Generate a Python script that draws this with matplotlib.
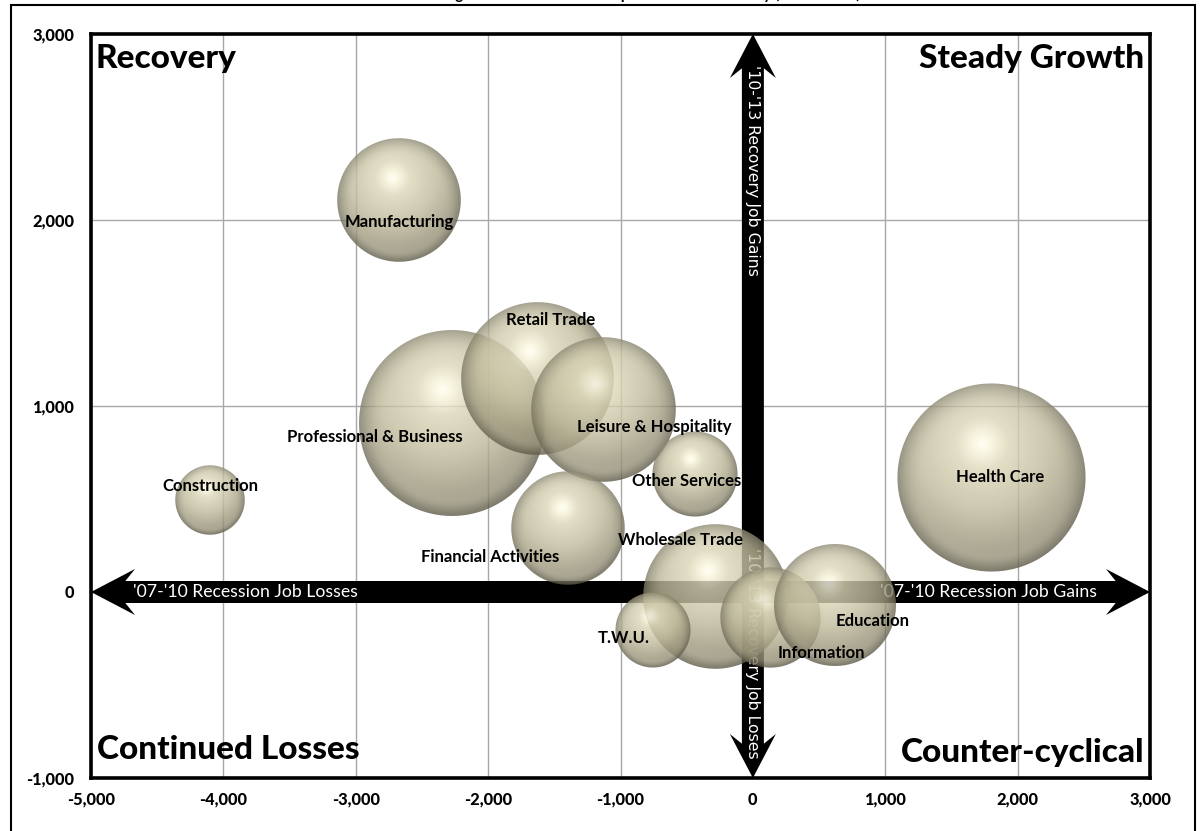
import numpy as np
import matplotlib.pyplot as plt
from matplotlib.offsetbox import OffsetImage, AnnotationBbox
from matplotlib.patches import Polygon, Rectangle

plt.rcParams['font.family'] = ['Lato', 'DejaVu Sans']

# Job change by industry, thousands: recession ('07-'10) vs recovery ('10-'13)
industries = ['Construction', 'Manufacturing', 'Professional & Business', 'Retail Trade',
              'Leisure & Hospitality', 'Other Services', 'Financial Activities', 'Wholesale Trade',
              'T.W.U.', 'Information', 'Education', 'Health Care']
recession_change = [-4100, -2670, -2270, -1630, -1130, -440, -1400, -280, -755, 135, 620, 1805]
recovery_change = [495, 2110, 910, 1150, 980, 635, 345, -25, -205, -135, -70, 615]
bubble_size = [1.2, 3.8, 8.6, 5.8, 5.2, 1.8, 3.2, 5.2, 1.4, 2.5, 3.7, 8.8]

# label placement relative to bubble centre, in pixels (x right, y down)
label_offsets = [(0, -14), (0, 22), (-78, 14), (14, -58), (51, 17), (-8, 7), (-77, 29),
                 (-35, -57), (-29, 8), (51, 36), (38, 16), (8, -1)]

x_ticks = [-5000, -4000, -3000, -2000, -1000, 0, 1000, 2000, 3000]
y_ticks = [-1000, 0, 1000, 2000, 3000]

title = 'Sector Job Change in the Recession Compared to the Recovery (2007-2013)'

W, H = 1201, 831
fig = plt.figure(figsize=(W / 100, H / 100), dpi=100)
ax = fig.add_axes([91 / W, 1 - 778 / H, (1150 - 91) / W, (778 - 34) / H])
ax.set_xlim(x_ticks[0], x_ticks[-1])
ax.set_ylim(y_ticks[0], y_ticks[-1])
ax.set_xticks(x_ticks, labels=[f'{v:,}' for v in x_ticks], fontweight='black', fontsize=11.8)
ax.set_yticks(y_ticks, labels=[f'{v:,}' for v in y_ticks], fontweight='black', fontsize=11.8)
ax.grid(color='#a8a8a8', lw=1.0)
ax.set_axisbelow(True)
for s in ax.spines.values():
    s.set_linewidth(2.6)
    s.set_color('black')
ax.tick_params(axis='x', length=0, pad=10)
ax.tick_params(axis='y', length=0, pad=12)

# pixels per data unit
px_x = ax.bbox.width / (x_ticks[-1] - x_ticks[0])
px_y = ax.bbox.height / (y_ticks[-1] - y_ticks[0])


def double_arrow(ax, horizontal, lo, hi, shaft=22, head_w=46, head_l=44):
    along, across = (px_x, px_y) if horizontal else (px_y, px_x)
    hl = head_l / along
    nl = 0.78 * head_l / along
    hw = head_w / 2 / across
    sw = shaft / 2 / across
    pts = [(lo, 0), (lo + hl, hw), (lo + nl, sw), (hi - nl, sw), (hi - hl, hw),
           (hi, 0), (hi - hl, -hw), (hi - nl, -sw), (lo + nl, -sw), (lo + hl, -hw)]
    if not horizontal:
        pts = [(c, a) for a, c in pts]
    ax.add_patch(Polygon(pts, closed=True, facecolor='black', edgecolor='none',
                         zorder=2, clip_on=False))


double_arrow(ax, True, x_ticks[0], x_ticks[-1])
double_arrow(ax, False, y_ticks[0], y_ticks[-1])

arrow_txt = dict(color='white', textcoords='offset pixels', zorder=2.1)
ax.annotate("'07-'10 Recession Job Losses", xy=(x_ticks[0], 0), xytext=(42, 0),
            ha='left', va='center', fontsize=12.7, **arrow_txt)
ax.annotate("'07-'10 Recession Job Gains", xy=(x_ticks[-1], 0), xytext=(-53, 0),
            ha='right', va='center', fontsize=12.7, **arrow_txt)
ax.annotate("'10-'13 Recovery Job Gains", xy=(0, y_ticks[-1]), xytext=(0, -31),
            ha='center', va='top', rotation=-90, fontsize=11.3,
            family='DejaVu Sans', **arrow_txt)
ax.annotate("'10-'13 Recovery Job Loses", xy=(0, 0), xytext=(0, 44),
            ha='center', va='top', rotation=-90, fontsize=11.3,
            family='DejaVu Sans', **arrow_txt)


def sphere(r, alpha=0.8):
    # pearl-like shaded disc with a soft highlight above centre
    n = int(np.ceil(2 * r)) + 2
    c = (n - 1) / 2
    yy, xx = np.mgrid[0:n, 0:n]
    u = (xx - c) / r
    v = (c - yy) / r
    d = np.hypot(u, v)
    t = np.hypot(u + 0.1, v - 0.36)
    ts = [0.0, 0.08, 0.28, 0.7, 1.35]
    cols = np.array([(255, 255, 244), (250, 247, 222), (220, 215, 184),
                     (192, 187, 156), (128, 123, 98)]) / 255
    rgb = np.stack([np.interp(t, ts, cols[:, k]) for k in range(3)], axis=-1)
    rgb *= (1 - 0.28 * np.clip((d - 0.72) / 0.28, 0, 1) ** 2)[..., None]
    # faint reflected light along the lower rim
    glow = 0.07 * np.clip(-v, 0, 1) * np.exp(-((d - 0.86) / 0.08) ** 2)
    rgb += glow[..., None]
    a = alpha * np.clip((1 - d) * r + 0.5, 0, 1)
    return np.dstack([np.clip(rgb, 0, 1), a])


for i, (name, x, y, s) in enumerate(zip(industries, recession_change, recovery_change, bubble_size)):
    r = 31.7 * np.sqrt(s)
    ab = AnnotationBbox(OffsetImage(sphere(r), dpi_cor=False), (x, y),
                        frameon=False, pad=0, box_alignment=(0.5, 0.5))
    ab.set_zorder(3 + i * 0.01)
    ax.add_artist(ab)
    dx, dy = label_offsets[i]
    ax.annotate(name, xy=(x, y), xytext=(dx, -dy), textcoords='offset pixels',
                ha='center', va='center', fontsize=12, fontweight='bold', zorder=10)

quad = dict(textcoords='offset pixels', fontsize=24, fontweight='black', va='baseline', zorder=11)
ax.annotate('Recovery', xy=(x_ticks[0], y_ticks[-1]), xytext=(4, -34), ha='left', **quad)
ax.annotate('Steady Growth', xy=(x_ticks[-1], y_ticks[-1]), xytext=(-6, -34), ha='right', **quad)
ax.annotate('Continued Losses', xy=(x_ticks[0], y_ticks[0]), xytext=(6, 19), ha='left', **quad)
ax.annotate('Counter-cyclical', xy=(x_ticks[-1], y_ticks[0]), xytext=(-6, 16), ha='right', **quad)

# chart area border and title running off the top
fig.add_artist(Rectangle((11 / W, -0.05), (1195 - 11) / W, 1.05 - 5 / H,
                         transform=fig.transFigure, fill=False, lw=1.5, ec='black'))
fig.text(603 / W, 1 + 1.0 / H, title, ha='center', va='baseline',
         fontsize=11, fontweight='bold')

fig.savefig('out.png', dpi=100)
